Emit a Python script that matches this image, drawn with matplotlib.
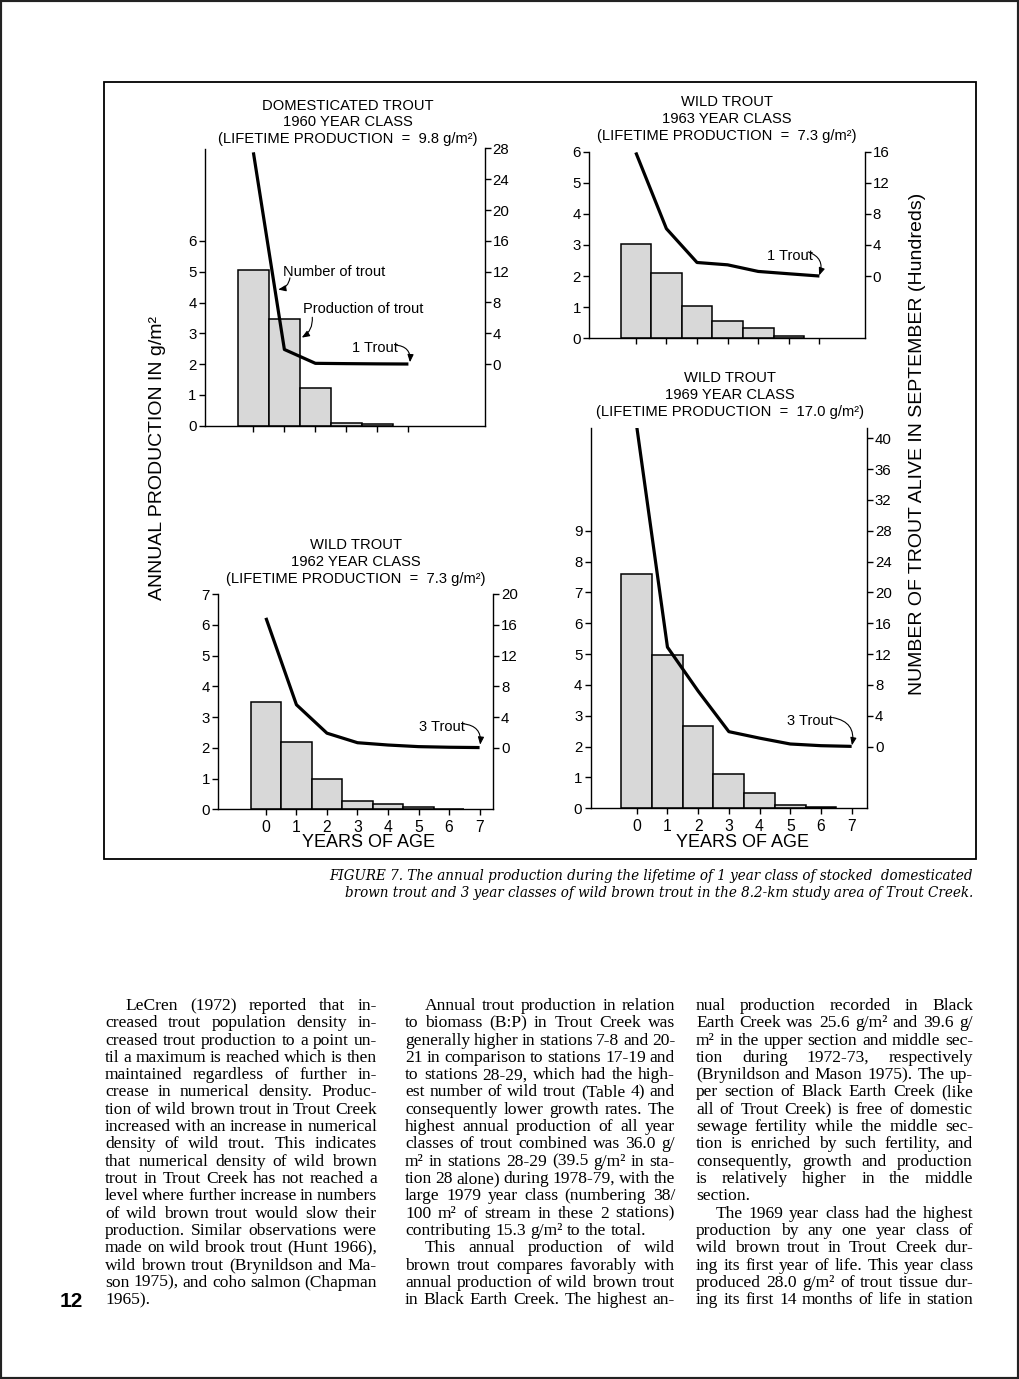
import matplotlib
matplotlib.use('Agg')
import matplotlib.pyplot as plt
from matplotlib.patches import Rectangle

W, H = 1019, 1379
DPI = 100
plt.rcParams['font.family'] = ['Liberation Sans', 'DejaVu Sans']

# ---------------- data ----------------
ages = [0, 1, 2, 3, 4, 5, 6, 7]

# production (g/m^2) by age, bars
prod_dom_1960 = [5.05, 3.46, 1.21, 0.10, 0.05]
prod_wild_1963 = [3.02, 2.11, 1.05, 0.55, 0.32, 0.08]
prod_wild_1962 = [3.50, 2.20, 0.98, 0.27, 0.16, 0.065, 0.02]
prod_wild_1969 = [7.60, 4.97, 2.68, 1.11, 0.51, 0.11, 0.05]

# number of trout alive in September (hundreds), line
num_dom_1960 = [27.5, 1.9, 0.10, 0.06, 0.03, 0.01]
num_wild_1963 = [15.9, 6.1, 1.75, 1.45, 0.60, 0.30, 0.01]
num_wild_1962 = [16.9, 5.6, 1.90, 0.66, 0.36, 0.15, 0.07, 0.03]
num_wild_1969 = [41.5, 12.9, 7.2, 1.94, 1.10, 0.34, 0.12, 0.03]

titles = {
    '1960': ['DOMESTICATED TROUT', '1960 YEAR CLASS', '(LIFETIME PRODUCTION  =  9.8 g/m²)'],
    '1963': ['WILD TROUT', '1963 YEAR CLASS', '(LIFETIME PRODUCTION  =  7.3 g/m²)'],
    '1962': ['WILD TROUT', '1962 YEAR CLASS', '(LIFETIME PRODUCTION  =  7.3 g/m²)'],
    '1969': ['WILD TROUT', '1969 YEAR CLASS', '(LIFETIME PRODUCTION  =  17.0 g/m²)'],
}

caption = ["FIGURE 7. The annual production during the lifetime of 1 year class of stocked  domesticated",
           "brown trout and 3 year classes of wild brown trout in the 8.2-km study area of Trout Creek."]

col1 = [
    ("LeCren (1972) reported that in-", True, True),
    ("creased trout population density in-", True, False),
    ("creased trout production to a point un-", True, False),
    ("til a maximum is reached which is then", True, False),
    ("maintained regardless of further in-", True, False),
    ("crease in numerical density. Produc-", True, False),
    ("tion of wild brown trout in Trout Creek", True, False),
    ("increased with an increase in numerical", True, False),
    ("density of wild trout. This indicates", True, False),
    ("that numerical density of wild brown", True, False),
    ("trout in Trout Creek has not reached a", True, False),
    ("level where further increase in numbers", True, False),
    ("of wild brown trout would slow their", True, False),
    ("production. Similar observations were", True, False),
    ("made on wild brook trout (Hunt 1966),", True, False),
    ("wild brown trout (Brynildson and Ma-", True, False),
    ("son 1975), and coho salmon (Chapman", True, False),
    ("1965).", False, False),
]
col2 = [
    ("Annual trout production in relation", True, True),
    ("to biomass (B:P) in Trout Creek was", True, False),
    ("generally higher in stations 7-8 and 20-", True, False),
    ("21 in comparison to stations 17-19 and", True, False),
    ("to stations 28-29, which had the high-", True, False),
    ("est number of wild trout (Table 4) and", True, False),
    ("consequently lower growth rates. The", True, False),
    ("highest annual production of all year", True, False),
    ("classes of trout combined was 36.0 g/", True, False),
    ("m² in stations 28-29 (39.5 g/m² in sta-", True, False),
    ("tion 28 alone) during 1978-79, with the", True, False),
    ("large 1979 year class (numbering 38/", True, False),
    ("100 m² of stream in these 2 stations)", True, False),
    ("contributing 15.3 g/m² to the total.", False, False),
    ("This annual production of wild", True, True),
    ("brown trout compares favorably with", True, False),
    ("annual production of wild brown trout", True, False),
    ("in Black Earth Creek. The highest an-", True, False),
]
col3 = [
    ("nual production recorded in Black", True, False),
    ("Earth Creek was 25.6 g/m² and 39.6 g/", True, False),
    ("m² in the upper section and middle sec-", True, False),
    ("tion during 1972-73, respectively", True, False),
    ("(Brynildson and Mason 1975). The up-", True, False),
    ("per section of Black Earth Creek (like", True, False),
    ("all of Trout Creek) is free of domestic", True, False),
    ("sewage fertility while the middle sec-", True, False),
    ("tion is enriched by such fertility, and", True, False),
    ("consequently, growth and production", True, False),
    ("is relatively higher in the middle", True, False),
    ("section.", False, False),
    ("The 1969 year class had the highest", True, True),
    ("production by any one year class of", True, False),
    ("wild brown trout in Trout Creek dur-", True, False),
    ("ing its first year of life. This year class", True, False),
    ("produced 28.0 g/m² of trout tissue dur-", True, False),
    ("ing its first 14 months of life in station", True, False),
]

# ---------------- figure ----------------
fig = plt.figure(figsize=(W / DPI, H / DPI), dpi=DPI)
fig.patch.set_facecolor('white')
renderer = fig.canvas.get_renderer()

BAR = '#d8d8d8'
TICK_FS = 10.8


def fx(x):
    return x / W


def fy(y):
    return 1 - y / H


def panel(l, r, t, b, xlim, ymax, lticks, rticks, xticks, prod, num, xlabels):
    ax = fig.add_axes([fx(l), fy(b), (r - l) / W, (b - t) / H])
    ax.patch.set_alpha(0)
    ax.bar(ages[:len(prod)], prod, width=1.0, color=BAR, edgecolor='black',
           linewidth=1.1, zorder=2)
    ax.set_xlim(*xlim)
    ax.set_ylim(0, ymax)
    ax.set_yticks(lticks)
    ax.set_yticklabels([str(v) for v in lticks])
    ax.set_xticks(xticks)
    if xlabels:
        ax.set_xticklabels([str(v) for v in xticks])
    else:
        ax.set_xticklabels([])
    ax.tick_params(axis='y', direction='out', length=4.5, width=1, pad=1.5,
                   labelsize=TICK_FS)
    ax.tick_params(axis='x', direction='out', length=4, width=1, pad=4,
                   labelsize=TICK_FS + 0.5)
    for s in ['top', 'right']:
        ax.spines[s].set_visible(False)
    for s in ['left', 'bottom']:
        ax.spines[s].set_linewidth(1.0)
    ax2 = ax.twinx()
    ax2.set_ylim(-8, 4 * (ymax - 2))
    ax2.plot(ages[:len(num)], num, color='black', lw=2.3, zorder=3,
             solid_joinstyle='round', solid_capstyle='butt')
    ax2.set_yticks(rticks)
    ax2.set_yticklabels([str(v) for v in rticks])
    ax2.tick_params(axis='y', direction='out', length=4.5, width=1, pad=1,
                    labelsize=TICK_FS)
    for s in ['top', 'left', 'bottom']:
        ax2.spines[s].set_visible(False)
    ax2.spines['right'].set_linewidth(1.0)
    return ax, ax2


def arrow(ax, tail, tip, rad):
    ax.annotate('', xy=tip, xytext=tail,
                arrowprops=dict(arrowstyle='-|>,head_length=0.45,head_width=0.18',
                                connectionstyle='arc3,rad=%s' % rad,
                                color='black', lw=0.8, shrinkA=0, shrinkB=0))


# Panel 1: domesticated 1960
ax1, _ = panel(205, 485, 148.5, 425.7, (-1.56, 7.47), 9,
               [0, 1, 2, 3, 4, 5, 6], [0, 4, 8, 12, 16, 20, 24, 28],
               [0, 1, 2, 3, 4, 5], prod_dom_1960, num_dom_1960, False)
ax1.text(0.96, 4.99, 'Number of trout', fontsize=10.5, ha='left', va='center')
arrow(ax1, (1.18, 4.80), (0.80, 4.42), -0.35)
ax1.text(1.60, 3.79, 'Production of trout', fontsize=10.5, ha='left', va='center')
arrow(ax1, (1.90, 3.52), (1.56, 2.86), -0.3)
ax1.text(3.18, 2.52, '1 Trout', fontsize=10.5, ha='left', va='center')
arrow(ax1, (4.57, 2.62), (5.05, 2.06), -0.5)

# Panel 2: wild 1963
ax2_, _ = panel(589.3, 865, 151.7, 338.3, (-1.52, 7.49), 6,
                [0, 1, 2, 3, 4, 5, 6], [0, 4, 8, 12, 16],
                [0, 1, 2, 3, 4, 5, 6], prod_wild_1963, num_wild_1963, False)
ax2_.text(4.28, 2.66, '1 Trout', fontsize=10.5, ha='left', va='center')
arrow(ax2_, (5.63, 2.78), (5.99, 2.02), -0.5)

# Panel 3: wild 1962
ax3, _ = panel(218.3, 493.3, 594, 809.3, (-1.56, 7.45), 7,
               [0, 1, 2, 3, 4, 5, 6, 7], [0, 4, 8, 12, 16, 20],
               ages, prod_wild_1962, num_wild_1962, True)
ax3.text(5.03, 2.69, '3 Trout', fontsize=10.5, ha='left', va='center')
arrow(ax3, (6.46, 2.78), (7.02, 2.10), -0.5)

# Panel 4: wild 1969
ax4, _ = panel(590.7, 867.3, 428.3, 808.3, (-1.50, 7.51), 12.32,
               [0, 1, 2, 3, 4, 5, 6, 7, 8, 9], list(range(0, 41, 4)),
               ages, prod_wild_1969, num_wild_1969, True)
ax4.text(4.89, 2.84, '3 Trout', fontsize=10.5, ha='left', va='center')
arrow(ax4, (6.39, 2.94), (7.01, 2.04), -0.5)


# Panel titles
def title(cx, ys, lines):
    for y, s in zip(ys, lines):
        fig.text(fx(cx), fy(y), s, ha='center', va='center', fontsize=10.6)


title(348, [105.5, 122, 139.5], titles['1960'])
title(727, [102, 119, 136], titles['1963'])
title(356, [545, 562, 579], titles['1962'])
title(730, [378, 395, 412], titles['1969'])

fig.text(fx(369), fy(842.5), 'YEARS OF AGE', ha='center', va='center', fontsize=13)
fig.text(fx(743), fy(842.5), 'YEARS OF AGE', ha='center', va='center', fontsize=13)

fig.text(fx(157), fy(458), 'ANNUAL PRODUCTION IN g/m²', rotation=90,
         ha='center', va='center', fontsize=14)
fig.text(fx(918), fy(444), 'NUMBER OF TROUT ALIVE IN SEPTEMBER (Hundreds)',
         rotation=90, ha='center', va='center', fontsize=14)

# figure frame and page border
fig.patches.append(Rectangle((fx(104), fy(859)), (976 - 104) / W, (859 - 82) / H,
                             transform=fig.transFigure, fill=False, lw=1.3,
                             ec='black', zorder=0))
fig.patches.append(Rectangle((0, 0), 1, 1, transform=fig.transFigure, fill=False,
                             lw=3, ec='#222222', zorder=0))


# ---------------- caption and body text ----------------
def twidth(s, **kw):
    t = fig.text(0, 0, s, **kw)
    w = t.get_window_extent(renderer).width
    t.remove()
    return w


cap_kw = dict(family='DejaVu Serif', style='italic')
w10 = twidth(caption[0], fontsize=10, **cap_kw)
cap_fs = 10 * (973 - 327) / w10
fig.text(fx(973), fy(880), caption[0], ha='right', va='baseline', fontsize=cap_fs, **cap_kw)
fig.text(fx(973), fy(897), caption[1], ha='right', va='baseline', fontsize=cap_fs, **cap_kw)

BODY_FS = 12.6
body_kw = dict(family='Liberation Serif')


def draw_line(s, x0, x1, yb, justify):
    fs = BODY_FS
    words = s.split(' ')
    while True:
        widths = [twidth(w, fontsize=fs, **body_kw) for w in words]
        sp = twidth('a a', fontsize=fs, **body_kw) - twidth('aa', fontsize=fs, **body_kw)
        if sum(widths) + sp * 0.7 * (len(words) - 1) <= (x1 - x0) or fs < 8:
            break
        fs -= 0.2
    if justify and len(words) > 1:
        gap = (x1 - x0 - sum(widths)) / (len(words) - 1)
    else:
        gap = sp
    x = x0
    for w, wd in zip(words, widths):
        fig.text(fx(x), fy(yb), w, ha='left', va='baseline', fontsize=fs, **body_kw)
        x += wd + gap


def draw_column(lines, x0, x1, y0, step):
    for i, (s, just, indent) in enumerate(lines):
        xs = x0 + (20 if indent else 0)
        draw_line(s, xs, x1, y0 + i * step, just)


Y0, STEP = 1010, 17.3
draw_column(col1, 105, 377, Y0, STEP)
draw_column(col2, 405, 675, Y0, STEP)
draw_column(col3, 696, 973, Y0, STEP)

fig.text(fx(71), fy(1307), '12', ha='center', va='baseline', fontsize=15,
         fontweight='bold', family=['Liberation Sans Narrow', 'Liberation Sans'])

fig.savefig('out.png', dpi=DPI)
